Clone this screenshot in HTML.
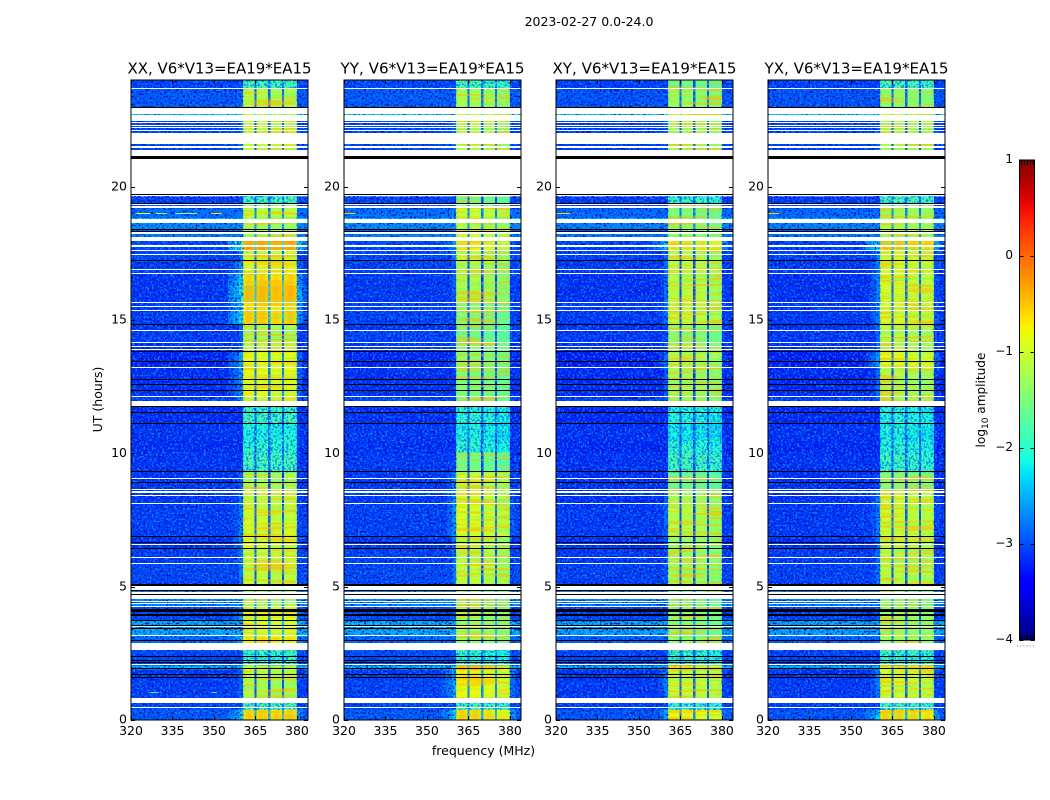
<!DOCTYPE html>
<html lang="en">
<head>
<meta charset="utf-8">
<title>2023-02-27 0.0-24.0</title>
<style>
html,body{margin:0;padding:0;background:#fff;}
svg{display:block;font-family:"DejaVu Sans","Liberation Sans",sans-serif;fill:#000;}
</style>
</head>
<body>
<svg id="fig" width="1050" height="800" viewBox="0 0 1050 800" xmlns="http://www.w3.org/2000/svg">
  <defs>
    <linearGradient id="jet-gradient" x1="0" y1="1" x2="0" y2="0"></linearGradient>
    <filter id="speck-light-1" x="0" y="0" width="100%" height="100%" color-interpolation-filters="sRGB"><feTurbulence type="fractalNoise" baseFrequency="0.48" numOctaves="2" seed="3"/><feColorMatrix type="matrix" values="0 0 0 0 0  0 0 0 0 0.52  0 0 0 0 1  5 0 0 0 -2.42"/></filter>
    <filter id="speck-dark-1" x="0" y="0" width="100%" height="100%" color-interpolation-filters="sRGB"><feTurbulence type="fractalNoise" baseFrequency="0.48" numOctaves="2" seed="11"/><feColorMatrix type="matrix" values="0 0 0 0 0  0 0 0 0 0.05  0 0 0 0 0.72  5 0 0 0 -2.62"/></filter>
    <filter id="band-streaks" x="0" y="0" width="100%" height="100%" color-interpolation-filters="sRGB"><feTurbulence type="fractalNoise" baseFrequency="0.015 0.45" numOctaves="2" seed="7"/><feColorMatrix type="matrix" values="0 0 0 0 0.3  0 0 0 0 1  0 0 0 0 0.55  4 0 0 0 -1.85"/></filter>
    <filter id="band-streaks-warm" x="0" y="0" width="100%" height="100%" color-interpolation-filters="sRGB"><feTurbulence type="fractalNoise" baseFrequency="0.02 0.38" numOctaves="2" seed="19"/><feColorMatrix type="matrix" values="0 0 0 0 1  0 0 0 0 0.72  0 0 0 0 0  5 0 0 0 -2.35"/></filter>
    <filter id="band-speck-light" x="0" y="0" width="100%" height="100%" color-interpolation-filters="sRGB"><feTurbulence type="fractalNoise" baseFrequency="0.45" numOctaves="2" seed="23"/><feColorMatrix type="matrix" values="0 0 0 0 0.15  0 0 0 0 1  0 0 0 0 0.75  5 0 0 0 -2.5"/></filter>
    <filter id="band-speck-dark" x="0" y="0" width="100%" height="100%" color-interpolation-filters="sRGB"><feTurbulence type="fractalNoise" baseFrequency="0.45" numOctaves="2" seed="29"/><feColorMatrix type="matrix" values="0 0 0 0 0  0 0 0 0 0.5  0 0 0 0 1  5 0 0 0 -2.4"/></filter>
  </defs>
  <rect x="0" y="0" width="1050" height="800" fill="#fff"/>
  <text x="589" y="26" font-size="12.5" text-anchor="middle">2023-02-27 0.0-24.0</text>
  <text x="483.5" y="755" font-size="12.5" text-anchor="middle">frequency (MHz)</text>
  <text x="102" y="399.5" font-size="12.5" text-anchor="middle" transform="rotate(-90 102 399.5)">UT (hours)</text>
  <g id="panels"></g>
  <g id="colorbar">
    <rect x="1019.5" y="160" width="15" height="480" fill="url(#jet-gradient)"/>
    <line x1="1017" y1="646" x2="1035" y2="646" stroke="#777" stroke-width="1" stroke-dasharray="1 2.2"/>
    <text x="985" y="400" font-size="12.1" text-anchor="middle" transform="rotate(-90 985 400)">log<tspan dy="3" font-size="9">10</tspan><tspan dy="-3"> amplitude</tspan></text>
  </g>
</svg>
<script>
// ---- chart data ----
const polarizationTitles = ['XX, V6*V13=EA19*EA15','YY, V6*V13=EA19*EA15','XY, V6*V13=EA19*EA15','YX, V6*V13=EA19*EA15'];
const xTickValues = [320,335,350,365,380];
const yTickValues = [0,5,10,15,20];
const colorbarTickValues = [-4,-3,-2,-1,0,1];

// time blocks, in hours UT (edges ascending)
const blockEdgeHours = [0,.39,.81,1.59,1.9,2.05,2.61,3.13,3.73,4.26,5.05,5.83,6.44,6.85,7.49,8.09,8.61,9.29,10.04,10.49,11.09,11.73,12.1,13.19,13.79,14.13,14.58,14.84,15.33,15.63,16.3,16.72,17.2,17.58,17.99,18.29,18.41,18.63,18.82,19.19,19.38,19.64,21.37,22.69,22.74,22.96,23.68,24];
// log10 amplitude off-band for each time block
const backgroundLevels = [-2.85,-2.95,-3.0,-3.05,-2.3,-2.95,-2.75,-2.35,-2.95,-2.55,-2.95,-3.0,-3.05,-3.0,-3.0,-3.05,-3.05,-3.05,-3.1,-3.05,-3.1,-2.95,-3.1,-3.15,-3.05,-3.0,-3.05,-3.0,-3.0,-3.05,-3.05,-3.0,-2.95,-2.95,-2.6,-2.85,-2.55,-2.2,-2.7,-2.95,-3.0,null,-2.95,-2.1,-2.95,-2.85,-2.95];
// log10 amplitude in the 360-380 MHz band per time block, per polarization
const bandLevelsXX = [-.55,-1.7,-1.2,-1.1,-1.0,-1.85,-.65,-.9,-.85,-1.25,-1.05,-1.0,-.9,-.95,-1.0,-1.05,-1.2,-1.7,-1.9,-2.05,-1.75,-.95,-.85,-.8,-1.1,-1.25,-1.2,-.5,-.6,-.4,-.55,-.85,-1.0,-.25,-1.2,-1.2,-1.25,-1.3,-1.05,-1.3,-1.7,null,-1.05,-.95,-1.05,-1.15,-1.7];
const bandLevelsYY = [-.55,-1.7,-.75,-.7,-.45,-1.9,-1.3,-1.25,-1.2,-1.35,-1.05,-1.1,-1.1,-.9,-.9,-.95,-1.0,-1.55,-1.9,-2.05,-1.95,-1.5,-1.45,-1.35,-1.4,-1.6,-1.55,-1.45,-1.4,-1.2,-1.2,-1.2,-1.05,-.85,-.95,-.95,-1.1,-1.2,-.95,-1.3,-1.6,null,-1.1,-.95,-1.1,-1.2,-1.65];
const bandLevelsXY = [-.75,-1.9,-1.0,-1.0,-.6,-1.85,-1.3,-1.4,-1.4,-1.5,-1.25,-1.25,-1.3,-1.15,-1.1,-1.2,-1.6,-1.7,-1.9,-2.15,-2.0,-1.3,-1.25,-1.1,-1.3,-1.4,-1.35,-1.05,-1.05,-1.1,-1.1,-1.1,-1.1,-.6,-1.35,-1.35,-1.35,-1.4,-1.45,-1.5,-1.8,null,-1.2,-1.0,-1.2,-1.3,-1.6];
const bandLevelsYX = [-.55,-1.9,-1.0,-.95,-.6,-1.8,-1.2,-1.25,-1.25,-1.4,-1.1,-1.1,-1.1,-1.0,-1.0,-1.0,-1.4,-1.8,-1.95,-2.1,-2.0,-1.15,-1.15,-.85,-1.1,-1.15,-1.1,-.95,-.95,-.95,-.95,-.95,-1.0,-.45,-1.2,-1.2,-1.15,-1.2,-1.2,-1.4,-1.7,null,-1.2,-1.0,-1.2,-1.35,-1.65];
const bandLevels = [bandLevelsXX,bandLevelsYY,bandLevelsXY,bandLevelsYX];
const backgroundTrim = [-.1,-.08,-.13,-.13];

// frequency channels, in MHz (edges ascending) and relative response
const channelEdgesMHz = [320,326,332,338,344,350,355,357,359,360.5,361.5,362.5,363.5,364.6,365.4,366.5,367.5,368.5,369.6,370.4,371.5,372.5,373.5,374.6,375.4,376.5,377.5,378.5,380,382,384];
const channelGains = [-9,-9,-9,-9,-9,-9,-2.2,-2.0,-1.7,-.1,0,0,-.08,-2.0,-.08,0,0,-.08,-2.0,-.08,0,0,-.08,-2.0,-.08,0,0,-.1,-2.05,-2.5];
const channelSections = [-1,-1,-1,-1,-1,-1,-1,-1,-1,0,0,0,0,-1,1,1,1,1,-1,2,2,2,2,-1,3,3,3,3,-1,-1];
const sectionTrimXX = [0,0,-.05,0];
const sectionTrimYY = [0,0,-.08,-.2];
const sectionTrimXY = [0,0,-.05,-.15];
const sectionTrimYX = [0,0,-.05,-.1];
const sectionTrims = [sectionTrimXX,sectionTrimYY,sectionTrimXY,sectionTrimYX];

// flagged (blank) time ranges, in hours UT
const blankStartHours = [.44,.65,1.91,2.06,2.63,3.15,3.49,4.09,4.13,4.26,4.35,4.44,4.54,4.73,4.84,5.85,6.09,6.56,8.1,8.41,8.53,8.63,9.04,11.78,12.11,13.22,13.89,14.0,14.13,14.59,15.34,15.49,15.64,16.72,16.87,17.21,17.45,17.59,17.75,17.97,18.21,18.65,19.21,19.32,19.66,19.75,21.15,21.45,21.51,21.6,22.11,22.2,22.29,22.39,22.47,22.74,23.66];
const blankEndHours   = [.49,.81,1.95,2.1,2.88,3.19,3.53,4.11,4.16,4.29,4.39,4.48,4.69,4.8,5.03,5.89,6.12,6.6,8.14,8.45,8.59,8.67,9.08,11.95,12.14,13.25,13.92,14.04,14.16,14.61,15.38,15.51,15.68,16.76,16.9,17.25,17.47,17.61,17.8,18.11,18.3,18.8,19.29,19.37,19.7,21.04,21.38,21.47,21.54,22.02,22.14,22.24,22.33,22.43,22.69,22.95,23.7];
// black (dropped) rows, in hours UT
const blackRowHours = [1.61,1.73,1.95,2.16,2.24,2.39,3.01,3.45,3.56,3.75,3.94,3.99,4.08,4.13,4.18,4.71,4.89,5.05,5.09,6.46,6.69,6.89,8.94,9.33,11.14,11.55,11.76,12.39,12.6,12.8,13.48,13.82,14.86,17.26,18.32,18.42,19.39,19.74,22.97];
// thick dropped row, in hours UT
const thickBlackStartHours = [21.03];
const thickBlackEndHours = [21.16];
// narrow interference traces: panel index, hour, start/end MHz, log10 level
const rfiPanels = [0,0,0,0,0,0,1,2,3];
const rfiHours = [1.06,1.06,19.0,19.0,19.0,19.0,19.0,19.0,19.0];
const rfiStartMHz = [327,349,322,329,336,349,320,320,320];
const rfiEndMHz = [330,351,327,333,344,353,324,325,324];
const rfiLevels = [-2.0,-2.1,-.8,-1.3,-1.4,-.6,-.5,-.5,-.5];

// ---- axis functions ----
const SVG_NS = 'http://www.w3.org/2000/svg';
const panelLefts = [131,344,556,768];
const panelWidth = 177, plotTop = 80, plotBottom = 720;
const freqMin = 320, freqMax = 384, hourMin = 0, hourMax = 24;
const colorMin = -4, colorMax = 1;
function xAxis(panel, mhz){ return panelLefts[panel] + (mhz-freqMin)/(freqMax-freqMin)*panelWidth; }
function yAxis(hour){ return plotBottom - (hour-hourMin)/(hourMax-hourMin)*(plotBottom-plotTop); }
function cbAxis(v){ return 640 - (v-colorMin)/(colorMax-colorMin)*480; }
function ramp(t, pts){
  for(let i=1;i<pts.length;i++){
    if(t<=pts[i][0]){
      const a=pts[i-1], b=pts[i];
      return a[1]+(b[1]-a[1])*(t-a[0])/(b[0]-a[0]);
    }
  }
  return pts[pts.length-1][1];
}
function jet(v){
  const t=Math.max(0,Math.min(1,(v-colorMin)/(colorMax-colorMin)));
  const r=ramp(t,[[0,0],[.35,0],[.66,1],[.89,1],[1,.5]]);
  const g=ramp(t,[[0,0],[.125,0],[.375,1],[.64,1],[.91,0],[1,0]]);
  const b=ramp(t,[[0,.5],[.11,1],[.34,1],[.65,0],[1,0]]);
  return 'rgb('+Math.round(r*255)+','+Math.round(g*255)+','+Math.round(b*255)+')';
}
function makeRect(parent,x,y,w,h,fill){
  const el=document.createElementNS(SVG_NS,'rect');
  el.setAttribute('x',x.toFixed(2));
  el.setAttribute('y',y.toFixed(2));
  el.setAttribute('width',w.toFixed(2));
  el.setAttribute('height',h.toFixed(2));
  el.setAttribute('fill',fill);
  parent.appendChild(el);
  return el;
}
function makeLine(parent,x1,y1,x2,y2){
  const el=document.createElementNS(SVG_NS,'line');
  el.setAttribute('x1',x1);
  el.setAttribute('y1',y1);
  el.setAttribute('x2',x2);
  el.setAttribute('y2',y2);
  el.setAttribute('stroke','#000');
  el.setAttribute('stroke-width','1');
  parent.appendChild(el);
  return el;
}
function makeText(parent,x,y,str,size,anchor){
  const el=document.createElementNS(SVG_NS,'text');
  el.setAttribute('x',x);
  el.setAttribute('y',y);
  el.setAttribute('font-size',size);
  el.setAttribute('text-anchor',anchor);
  el.textContent=str;
  parent.appendChild(el);
  return el;
}

// ---- panels ----
const panelsRoot=document.getElementById('panels');
polarizationTitles.forEach(function(title,p){
  const g=document.createElementNS(SVG_NS,'g');
  
  
  panelsRoot.appendChild(g);
  const cells=document.createElementNS(SVG_NS,'g');
  cells.setAttribute('shape-rendering','crispEdges');
  
  
  g.appendChild(cells);
  for(let b=0;b<blockEdgeHours.length-1;b++){
    if(backgroundLevels[b]===null||bandLevels[p][b]===null) continue;
    for(let c=0;c<channelEdgesMHz.length-1;c++){
      const sec=channelSections[c];
      const trim=sec>=0?sectionTrims[p][sec]:0;
      const value=Math.max(backgroundLevels[b]+backgroundTrim[p], bandLevels[p][b]+channelGains[c]+trim);
      const x0=xAxis(p,channelEdgesMHz[c]), x1=xAxis(p,channelEdgesMHz[c+1]);
      const y0=yAxis(blockEdgeHours[b+1]), y1=yAxis(blockEdgeHours[b]);
      const cell=makeRect(cells,x0,y0,x1-x0,y1-y0,jet(value));
      
      
    }
  }
  // decorative speckle and streak textures
  [[freqMin,360.5],[380,freqMax]].forEach(function(range){
    const xa=xAxis(p,range[0]), xb=xAxis(p,range[1]);
    const light=makeRect(g,xa,plotTop,xb-xa,plotBottom-plotTop,'#000');
    light.setAttribute('filter','url(#speck-light-1)');
    
    
    const dark=makeRect(g,xa,plotTop,xb-xa,plotBottom-plotTop,'#000');
    dark.setAttribute('filter','url(#speck-dark-1)');
    
    
  });
  const bx0=xAxis(p,360.5), bx1=xAxis(p,380);
  const streaks=makeRect(g,bx0,plotTop,bx1-bx0,plotBottom-plotTop,'#000');
  streaks.setAttribute('filter','url(#band-streaks)');
  streaks.setAttribute('opacity','0.35');
  
  
  for(let b=0;b<blockEdgeHours.length-1;b++){
    const level=bandLevels[p][b];
    if(level===null) continue;
    const yTop=yAxis(blockEdgeHours[b+1]);
    const yHeight=yAxis(blockEdgeHours[b])-yTop;
    if(level>=-1.6){
      const warm=makeRect(g,bx0,yTop,bx1-bx0,yHeight,'#000');
      warm.setAttribute('filter','url(#band-streaks-warm)');
      warm.setAttribute('opacity','0.6');
      
      
    } else {
      const speckLight=makeRect(g,bx0,yTop,bx1-bx0,yHeight,'#000');
      speckLight.setAttribute('filter','url(#band-speck-light)');
      
      
      const speckDark=makeRect(g,bx0,yTop,bx1-bx0,yHeight,'#000');
      speckDark.setAttribute('filter','url(#band-speck-dark)');
      
      
    }
  }
  // interference traces
  rfiHours.forEach(function(h,i){
    if(rfiPanels[i]!==p) return;
    const xa=xAxis(p,rfiStartMHz[i]), xb=xAxis(p,rfiEndMHz[i]);
    const rfi=makeRect(g,xa,Math.round(yAxis(h)),xb-xa,1,jet(rfiLevels[i]));
    
    
  });
  // flagged rows
  const flags=document.createElementNS(SVG_NS,'g');
  flags.setAttribute('shape-rendering','crispEdges');
  
  
  g.appendChild(flags);
  for(let b=0;b<blockEdgeHours.length-1;b++){
    if(bandLevels[p][b]!==null) continue;
    const ya=Math.round(yAxis(blockEdgeHours[b+1])), yb=Math.round(yAxis(blockEdgeHours[b]));
    const noData=makeRect(flags,panelLefts[p],ya,panelWidth,yb-ya,'#fff');
    
    
  }
  blankStartHours.forEach(function(h,i){
    const ya=Math.round(yAxis(blankEndHours[i])), yb=Math.round(yAxis(h));
    const row=makeRect(flags,panelLefts[p],ya,panelWidth,Math.max(1,yb-ya),'#fff');
    
    
  });
  blackRowHours.forEach(function(h){
    const row=makeRect(flags,panelLefts[p],Math.round(yAxis(h)),panelWidth,1,'#000');
    
    
  });
  thickBlackStartHours.forEach(function(h,i){
    const ya=Math.round(yAxis(thickBlackEndHours[i])), yb=Math.round(yAxis(h));
    const thick=makeRect(flags,panelLefts[p],ya,panelWidth,yb-ya,'#000');
    
    
  });
  // frame
  const frame=makeRect(g,panelLefts[p],plotTop,panelWidth,plotBottom-plotTop,'none');
  frame.setAttribute('stroke','#000');
  frame.setAttribute('stroke-width','1');
  
  
  // x ticks
  xTickValues.forEach(function(v){
    const x=Math.round(xAxis(p,v))+.5;
    const t1=makeLine(g,x,plotBottom,x,plotBottom-4);
    
    
    const t2=makeLine(g,x,plotTop,x,plotTop+4);
    
    
    const lab=makeText(g,xAxis(p,v),735,String(v),12.5,'middle');
    
    
  });
  // y ticks
  yTickValues.forEach(function(v){
    const y=Math.round(yAxis(v))+.5;
    const t1=makeLine(g,panelLefts[p],y,panelLefts[p]+4,y);
    
    
    const t2=makeLine(g,panelLefts[p]+panelWidth-4,y,panelLefts[p]+panelWidth,y);
    
    
    const lab=makeText(g,panelLefts[p]-4,yAxis(v)+3.7,String(v),12.5,'end');
    
    
  });
  const ttl=makeText(g,panelLefts[p]+panelWidth/2,73.5,title,15.3,'middle');
  ttl.setAttribute('textLength','184');
  ttl.setAttribute('lengthAdjust','spacingAndGlyphs');
  
  
});

// ---- colorbar ----
const gradient=document.getElementById('jet-gradient');
for(let i=0;i<=40;i++){
  const stop=document.createElementNS(SVG_NS,'stop');
  stop.setAttribute('offset',(i/40).toFixed(3));
  stop.setAttribute('stop-color',jet(colorMin+(colorMax-colorMin)*i/40));
  gradient.appendChild(stop);
}
const cbRoot=document.getElementById('colorbar');
const cbFrame=makeRect(cbRoot,1019.5,160,15,480,'none');
cbFrame.setAttribute('stroke','#000');
cbFrame.setAttribute('stroke-width','1');


colorbarTickValues.forEach(function(v){
  const y=Math.round(cbAxis(v))+.5;
  const t1=makeLine(cbRoot,1019.5,y,1023.5,y);
  
  
  const t2=makeLine(cbRoot,1030.5,y,1034.5,y);
  
  
  const lab=makeText(cbRoot,1013,cbAxis(v)+3,String(v).replace('-','\u2212'),12,'end');
  
  
});
for(let i=0;i<5;i++){
  const x=1021.5+i*3;
  const a=makeLine(cbRoot,x,160,x,165);
  
  
  const b=makeLine(cbRoot,x,635,x,640);
  
  
}
</script>
</body>
</html>
